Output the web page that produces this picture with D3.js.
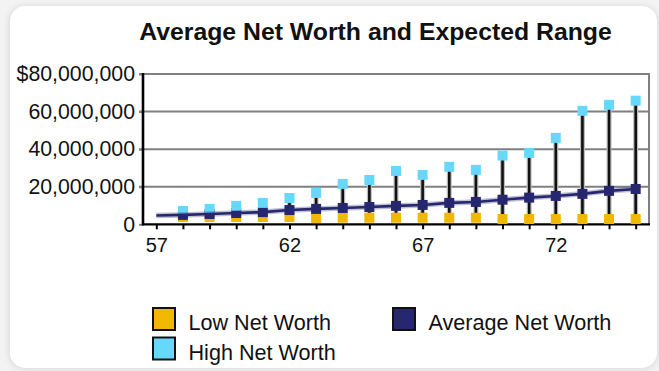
<!DOCTYPE html>
<html>
<head>
<meta charset="utf-8">
<script src="https://cdn.jsdelivr.net/npm/d3@7"></script>
<style>
  html, body { margin: 0; padding: 0; background: #f3f3f3; }
  svg { display: block; }
  text { font-family: "Liberation Sans", Arial, sans-serif; fill: #111; }
</style>
</head>
<body>
<svg id="chart" width="659" height="371"></svg>
<script>
// Ages shown on the horizontal axis (one marker group per year)
const ages = [58, 59, 60, 61, 62, 63, 64, 65, 66, 67, 68, 69, 70, 71, 72, 73, 74, 75];
// Net worth in millions of dollars
const highNetWorth = [7.1, 8.2, 9.8, 11.4, 14.0, 16.7, 21.5, 23.6, 28.4, 26.3, 30.6, 29.0, 36.6, 38.0, 46.0, 60.4, 63.6, 65.8];
const avgNetWorth  = [5.0, 5.5, 6.0, 6.5, 7.6, 8.2, 8.7, 9.2, 9.8, 10.3, 11.4, 11.9, 13.1, 14.2, 15.1, 16.2, 17.8, 18.8];
const lowNetWorth  = [3.9, 3.9, 3.9, 3.9, 3.9, 3.4, 3.5, 3.5, 3.5, 3.5, 3.5, 3.5, 2.8, 2.8, 2.8, 2.8, 2.8, 2.8];
// Starting point of the average line (current age, no marker)
const startAge = 57;
const startAvg = 4.7;

const yTicks = [0, 20, 40, 60, 80];
const yTickLabels = ["0", "20,000,000", "40,000,000", "60,000,000", "$80,000,000"];
const xTicks = [57, 58, 59, 60, 61, 62, 63, 64, 65, 66, 67, 68, 69, 70, 71, 72, 73, 74, 75];
const xTickLabels = ["57", "62", "67", "72"];

const colors = { low: "#f0b800", high: "#66d8fc", avg: "#272770" };

const svg = d3.select("#chart");

// Panel with soft shadow
const defs = svg.append("defs");
const f = defs.append("filter").attr("id", "shadow").attr("x", "-10%").attr("y", "-10%").attr("width", "120%").attr("height", "120%");
f.append("feGaussianBlur").attr("stdDeviation", 3);
svg.append("rect").attr("x", 9).attr("y", 6).attr("width", 649).attr("height", 363)
  .attr("rx", 16).attr("fill", "#d8d8d8").attr("filter", "url(#shadow)");
svg.append("rect").attr("x", 10).attr("y", 6).attr("width", 647).attr("height", 362)
  .attr("rx", 15).attr("fill", "#ffffff");

// Title
svg.append("text").attr("x", 375.5).attr("y", 40).attr("text-anchor", "middle")
  .style("font-weight", "bold").style("font-size", "24.8px")
  .text("Average Net Worth and Expected Range");

const x = d3.scaleLinear().domain([56.5, 75.5]).range([143, 649]);
const y = d3.scaleLinear().domain([0, 80]).range([224.3, 74]);

// Horizontal gridlines
svg.append("g").selectAll("line").data(yTicks.filter(d => d > 0)).join("line")
  .attr("x1", 139).attr("x2", x.range()[1])
  .attr("y1", d => y(d)).attr("y2", d => y(d))
  .attr("stroke", "#808080").attr("stroke-width", 2);
// Right border of the plot area
svg.append("line").attr("x1", x.range()[1]).attr("x2", x.range()[1])
  .attr("y1", y(80) - 1).attr("y2", y(0))
  .attr("stroke", "#808080").attr("stroke-width", 2);

// Y axis
const yAxis = d3.axisLeft(y).tickValues(yTicks)
  .tickFormat((d, i) => yTickLabels[i]).tickSize(4).tickPadding(4);
const gy = svg.append("g").attr("transform", `translate(${x.range()[0]},0)`).call(yAxis);
gy.select(".domain").remove();
gy.selectAll(".tick line").attr("stroke", "#808080").attr("stroke-width", 2);
gy.selectAll(".tick text").style("font-size", "21.3px").attr("fill", "#111")
  .style("font-family", "'Liberation Sans', Arial, sans-serif");
svg.append("line").attr("x1", x.range()[0]).attr("x2", x.range()[0])
  .attr("y1", y(80) - 1).attr("y2", y(0) + 1).attr("stroke", "#000").attr("stroke-width", 2.6);

// X axis
const xAxis = d3.axisBottom(x).tickValues(xTicks)
  .tickFormat(d => xTickLabels.includes(String(d)) ? String(d) : "")
  .tickSize(5).tickPadding(9);
const gx = svg.append("g").attr("transform", `translate(0,${y(0)})`).call(xAxis);
gx.select(".domain").remove();
gx.selectAll(".tick line").attr("stroke", "#000").attr("stroke-width", 2);
gx.selectAll(".tick text").style("font-size", "20px").attr("fill", "#111")
  .style("font-family", "'Liberation Sans', Arial, sans-serif");
svg.append("line").attr("x1", x.range()[0] - 1).attr("x2", x.range()[1] + 1)
  .attr("y1", y(0)).attr("y2", y(0)).attr("stroke", "#000").attr("stroke-width", 2.2);

const rows = ages.map((a, i) => ({ age: a, low: lowNetWorth[i], high: highNetWorth[i], avg: avgNetWorth[i] }));

// High-low range stems
const stems = svg.append("g");
stems.selectAll("line.halo").data(rows).join("line").attr("class", "halo")
  .attr("x1", d => x(d.age)).attr("x2", d => x(d.age))
  .attr("y1", d => y(d.low)).attr("y2", d => y(d.high))
  .attr("stroke", "#bbb").attr("stroke-width", 5);
stems.selectAll("line.stem").data(rows).join("line").attr("class", "stem")
  .attr("x1", d => x(d.age)).attr("x2", d => x(d.age))
  .attr("y1", d => y(d.low)).attr("y2", d => y(d.high))
  .attr("stroke", "#111").attr("stroke-width", 2.6);

const S = 10;
function squares(key, color) {
  svg.append("g").selectAll("rect").data(rows).join("rect")
    .attr("x", d => x(d.age) - S / 2).attr("y", d => y(d[key]) - S / 2)
    .attr("width", S).attr("height", S).attr("fill", color);
}
squares("low", colors.low);
squares("avg", colors.avg);
squares("high", colors.high);

// Average net worth line
const linePts = [{ age: startAge, avg: startAvg }].concat(rows);
const line = d3.line().x(d => x(d.age)).y(d => y(d.avg));
svg.append("path").datum(linePts).attr("d", line).attr("fill", "none")
  .attr("stroke", colors.avg).attr("stroke-opacity", 0.3).attr("stroke-width", 5.5);
svg.append("path").datum(linePts).attr("d", line).attr("fill", "none")
  .attr("stroke", colors.avg).attr("stroke-width", 2.6);

// Legend
const legendItems = [
  { label: "Low Net Worth", color: colors.low, x: 152, y: 307 },
  { label: "Average Net Worth", color: colors.avg, x: 392, y: 307 },
  { label: "High Net Worth", color: colors.high, x: 152, y: 336.5 }
];
const lg = svg.append("g").selectAll("g").data(legendItems).join("g")
  .attr("transform", d => `translate(${d.x},${d.y})`);
lg.append("rect").attr("x", 1).attr("y", 1).attr("width", 22).attr("height", 22)
  .attr("fill", d => d.color).attr("stroke", "#111").attr("stroke-width", 2);
lg.append("text").attr("x", 36.5).attr("y", 23).style("font-size", "21.6px").text(d => d.label);
</script>
</body>
</html>
